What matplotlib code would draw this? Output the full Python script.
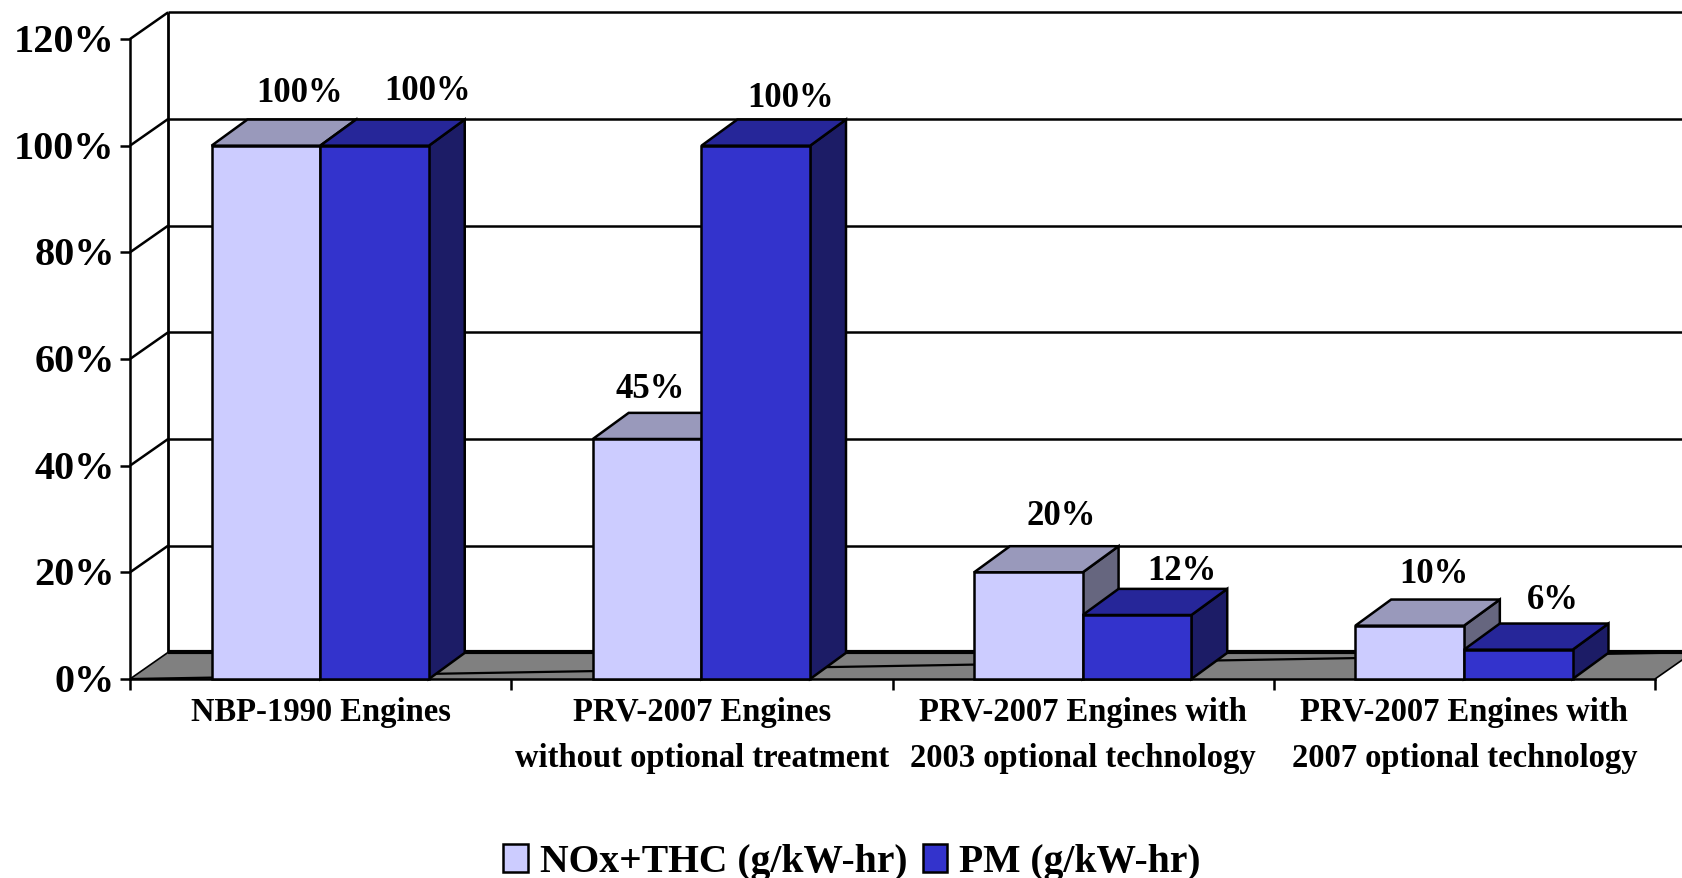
import matplotlib
matplotlib.use('Agg')
import matplotlib.pyplot as plt
from matplotlib.patches import Polygon, Patch
from matplotlib.transforms import ScaledTranslation

plt.rcParams['font.family'] = ['Liberation Serif', 'DejaVu Serif']
plt.rcParams['font.weight'] = 'bold'

# Data
categories = ['NBP-1990 Engines',
              'PRV-2007 Engines\nwithout optional treatment',
              'PRV-2007 Engines with\n2003 optional technology',
              'PRV-2007 Engines with\n2007 optional technology']
nox_values = [100, 45, 20, 10]
pm_values = [100, 100, 12, 5.5]
nox_labels = ['100%', '45%', '20%', '10%']
pm_labels = ['100%', '100%', '12%', '6%']
y_ticks = [0, 20, 40, 60, 80, 100, 120]

# Colours: front, top, side
nox_colors = ('#CCCCFF', '#9999BB', '#66667F')
pm_colors = ('#3333CC', '#262699', '#1C1C66')
floor_color = '#808080'

# Fake 3D depth in data units
wall_dx, wall_dy = 0.1, 5.0
bar_dx, bar_dy = 0.094, 4.9
bar_w = 0.285
bar_start = 0.214
lw = 1.8

# Manual label offsets (pixels from the front left corner of the bar top)
nox_offsets = [(88, 53), (57, 51), (87, 57), (79, 52)]
pm_offsets = [(107, 55), (89, 48), (99, 44), (89, 50)]

W, H = 1682, 879
fig = plt.figure(figsize=(W / 100, H / 100), dpi=100)
ax = fig.add_axes([130 / W, (H - 680) / H, (1655 - 130) / W, (680 - 40) / H])
ax.set_xlim(0, 4)
ax.set_ylim(0, 120)


def add_poly(pts, color, z):
    ax.add_patch(Polygon(pts, closed=True, facecolor=color, edgecolor='black',
                         linewidth=lw, joinstyle='miter', clip_on=False, zorder=z))


def add_line(xs, ys, width=lw, z=2):
    ax.plot(xs, ys, color='black', linewidth=width, clip_on=False, zorder=z,
            solid_capstyle='butt')


def draw_bar(x, v, colors, z):
    add_poly([(x + bar_w, 0), (x + bar_w + bar_dx, bar_dy),
              (x + bar_w + bar_dx, v + bar_dy), (x + bar_w, v)], colors[2], z)
    add_poly([(x, v), (x + bar_dx, v + bar_dy),
              (x + bar_w + bar_dx, v + bar_dy), (x + bar_w, v)], colors[1], z)
    add_poly([(x, 0), (x + bar_w, 0), (x + bar_w, v), (x, v)], colors[0], z + 0.1)


# Floor and walls
ax.add_patch(Polygon([(0, 0), (wall_dx, wall_dy), (4 + wall_dx, wall_dy), (4, 0)],
                     closed=True, facecolor=floor_color, edgecolor='none',
                     clip_on=False, zorder=1))
for v in y_ticks[1:]:
    add_line([0, wall_dx], [v, v + wall_dy])
    add_line([wall_dx, 4 + wall_dx], [v + wall_dy, v + wall_dy])
add_line([wall_dx, wall_dx], [wall_dy, 120 + wall_dy], width=2)
add_line([0, wall_dx], [0, wall_dy], width=1.2)
add_line([4, 4 + wall_dx], [0, wall_dy], width=1.2)
add_line([wall_dx, 4 + wall_dx], [wall_dy, wall_dy], width=3)
add_line([0, 4 + wall_dx], [0, wall_dy], width=1.6)

# Bars
for i in range(len(categories)):
    x = i + bar_start
    draw_bar(x, nox_values[i], nox_colors, 3 + i)
    draw_bar(x + bar_w, pm_values[i], pm_colors, 3.5 + i)
    ax.annotate(nox_labels[i], (x, nox_values[i]), xytext=nox_offsets[i],
                textcoords='offset pixels', ha='center', va='center',
                fontsize=25, annotation_clip=False, zorder=10)
    ax.annotate(pm_labels[i], (x + bar_w, pm_values[i]), xytext=pm_offsets[i],
                textcoords='offset pixels', ha='center', va='center',
                fontsize=25, annotation_clip=False, zorder=10)

# Axes
for s in ['top', 'right']:
    ax.spines[s].set_visible(False)
for s in ['left', 'bottom']:
    ax.spines[s].set_linewidth(1.8)
ax.patch.set_alpha(0)
ax.set_yticks(y_ticks)
ax.set_yticklabels([f'{v}%' for v in y_ticks], fontsize=29)
ax.tick_params(axis='y', length=7.2, width=1.8, pad=3.8)
# nudge the y labels up a little
nudge = ScaledTranslation(0, 2 / 100, fig.dpi_scale_trans)
for label in ax.get_yticklabels():
    label.set_transform(label.get_transform() + nudge)
ax.set_xticks(range(5))
ax.set_xticklabels([])
ax.tick_params(axis='x', which='major', length=8, width=1.8)
ax.set_xticks([i + 0.5 for i in range(4)], minor=True)
ax.set_xticklabels(categories, minor=True, fontsize=23.5, linespacing=1.6, va='top')
ax.tick_params(axis='x', which='minor', length=0, pad=12.5)

# Legend
handles = [Patch(facecolor=nox_colors[0], edgecolor='black', linewidth=lw),
           Patch(facecolor=pm_colors[0], edgecolor='black', linewidth=lw)]
fig.legend(handles, ['NOx+THC (g/kW-hr)', 'PM (g/kW-hr)'], loc='center',
           bbox_to_anchor=(852 / W, (H - 863) / H), ncol=2, frameon=False,
           fontsize=28.5, handlelength=0.62, handleheight=0.7, handletextpad=0.3,
           columnspacing=0.4, borderpad=0, borderaxespad=0)

fig.savefig('out.png', dpi=100)
